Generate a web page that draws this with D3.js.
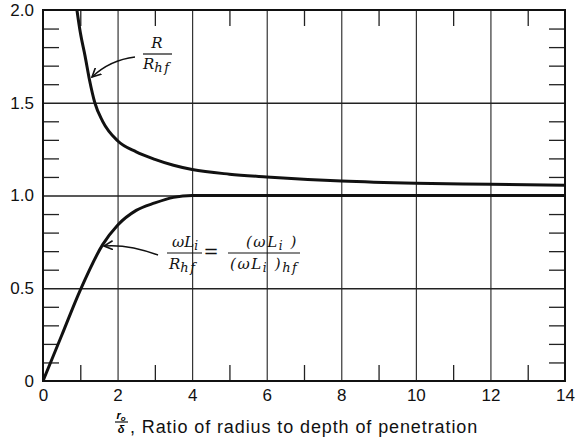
<!DOCTYPE html>
<html>
<head>
<meta charset="utf-8">
<script src="https://cdn.jsdelivr.net/npm/d3@7"></script>
<style>
  body { margin: 0; background: #fff; }
  svg { display: block; }
  .tick text { font-family: "Liberation Sans", Arial, sans-serif; font-size: 17px; fill: #111; }
  .note { font-family: "DejaVu Serif", serif; font-style: italic; font-size: 15px; fill: #111; }
  .spaced { letter-spacing: 1.6px; }
  .axis-title { font-family: "Liberation Sans", Arial, sans-serif; font-size: 18px; fill: #111; letter-spacing: 0.9px; }
</style>
</head>
<body>
<svg id="chart" width="577" height="443"></svg>
<script>
const xTicks = [0, 2, 4, 6, 8, 10, 12, 14];
const xTickLabels = ["0", "2", "4", "6", "8", "10", "12", "14"];
const xMinor = [1, 3, 5, 7, 9, 11, 13];
const yTicks = [0, 0.5, 1.0, 1.5, 2.0];
const yTickLabels = ["0", "0.5", "1.0", "1.5", "2.0"];
const yMinor = [0.1, 0.2, 0.3, 0.4, 0.6, 0.7, 0.8, 0.9, 1.1, 1.2, 1.3, 1.4, 1.6, 1.7, 1.8, 1.9];

// R / R_hf
const rRatioX = [0.91, 1.0, 1.13, 1.25, 1.39, 1.6, 2, 2.5, 3, 3.5, 4, 5, 6, 8, 10, 12, 14];
const rRatioY = [2.0, 1.88, 1.75, 1.62, 1.5, 1.40, 1.295, 1.235, 1.195, 1.163, 1.14, 1.115, 1.10, 1.078, 1.066, 1.06, 1.055];

// wL_i / R_hf
const lRatioX = [0, 0.5, 1, 1.6, 2, 2.5, 3, 3.5, 4, 6, 8, 10, 12, 14];
const lRatioY = [0, 0.245, 0.49, 0.735, 0.84, 0.92, 0.96, 0.99, 1.0, 1.0, 1.0, 1.0, 1.0, 1.0];

const pLeft = 43, pRight = 565, pTop = 10, pBottom = 381;
const x = d3.scaleLinear().domain([0, 14]).range([pLeft, pRight]);
const y = d3.scaleLinear().domain([0, 2]).range([pBottom, pTop]);

const svg = d3.select("#chart");

const defs = svg.append("defs");
defs.append("clipPath").attr("id", "plot")
  .append("rect").attr("x", pLeft).attr("y", pTop)
  .attr("width", pRight - pLeft).attr("height", pBottom - pTop);
defs.append("marker")
  .attr("id", "arrow")
  .attr("viewBox", "0 0 10 10")
  .attr("refX", 9).attr("refY", 5)
  .attr("markerWidth", 10).attr("markerHeight", 10)
  .attr("markerUnits", "userSpaceOnUse")
  .attr("orient", "auto")
  .append("path")
  .attr("d", "M0,0.5 L9,5 L0,9.5")
  .attr("fill", "none").attr("stroke", "#111").attr("stroke-width", 1.6);

// grid lines
svg.append("g")
  .attr("transform", `translate(0,${pBottom})`)
  .call(d3.axisBottom(x).tickValues(xTicks.slice(1, -1)).tickSize(-(pBottom - pTop)).tickFormat(""))
  .call(g => g.select(".domain").remove())
  .selectAll("line").attr("stroke", "#222").attr("stroke-width", 1.1);

svg.append("g")
  .attr("transform", `translate(${pLeft},0)`)
  .call(d3.axisLeft(y).tickValues(yTicks.slice(1, -1)).tickSize(-(pRight - pLeft)).tickFormat(""))
  .call(g => g.select(".domain").remove())
  .selectAll("line").attr("stroke", "#222").attr("stroke-width", 1.3);

// short minor ticks on all four sides
const tickLen = 16;
function minor(g) {
  g.select(".domain").remove();
  g.selectAll("line").attr("stroke", "#222").attr("stroke-width", 1.3);
}
svg.append("g").attr("transform", `translate(${pLeft},0)`)
  .call(d3.axisLeft(y).tickValues(yMinor).tickSize(-tickLen).tickFormat("")).call(minor);
svg.append("g").attr("transform", `translate(${pRight},0)`)
  .call(d3.axisRight(y).tickValues(yMinor).tickSize(-tickLen).tickFormat("")).call(minor);
svg.append("g").attr("transform", `translate(0,${pTop})`)
  .call(d3.axisTop(x).tickValues(xMinor).tickSize(-tickLen).tickFormat("")).call(minor);
svg.append("g").attr("transform", `translate(0,${pBottom})`)
  .call(d3.axisBottom(x).tickValues(xMinor).tickSize(-tickLen).tickFormat("")).call(minor);

// frame
svg.append("rect")
  .attr("x", pLeft).attr("y", pTop)
  .attr("width", pRight - pLeft).attr("height", pBottom - pTop)
  .attr("fill", "none").attr("stroke", "#111").attr("stroke-width", 2);

// tick labels
svg.append("g").attr("transform", `translate(${pLeft},0)`)
  .call(d3.axisLeft(y).tickValues(yTicks).tickSize(0).tickPadding(9)
    .tickFormat((d, i) => yTickLabels[i]))
  .call(g => g.select(".domain").remove());
svg.append("g").attr("transform", `translate(0,${pBottom})`)
  .call(d3.axisBottom(x).tickValues(xTicks).tickSize(0).tickPadding(8)
    .tickFormat((d, i) => xTickLabels[i]))
  .call(g => g.select(".domain").remove());

// curves
const line = d3.line().x(d => x(d[0])).y(d => y(d[1])).curve(d3.curveMonotoneX);
const curves = svg.append("g").attr("clip-path", "url(#plot)");
curves.append("path")
  .datum(rRatioX.map((v, i) => [v, rRatioY[i]]))
  .attr("d", line)
  .attr("fill", "none").attr("stroke", "#111").attr("stroke-width", 3);
curves.append("path")
  .datum(lRatioX.map((v, i) => [v, lRatioY[i]]))
  .attr("d", line)
  .attr("fill", "none").attr("stroke", "#111").attr("stroke-width", 3);

// annotation: R / R_hf
const n1 = svg.append("g").attr("class", "note");
n1.append("text").attr("x", 157).attr("y", 48).attr("text-anchor", "middle").text("R");
n1.append("line").attr("x1", 143).attr("x2", 172).attr("y1", 54).attr("y2", 54)
  .attr("stroke", "#111").attr("stroke-width", 1.2);
const d1 = n1.append("text").attr("x", 143).attr("y", 69);
d1.append("tspan").text("R");
d1.append("tspan").attr("dy", 3).attr("font-size", 13).attr("class", "spaced").text("hf");
svg.append("path")
  .attr("d", "M135,57 Q110,60 92,77")
  .attr("fill", "none").attr("stroke", "#111").attr("stroke-width", 1.6)
  .attr("marker-end", "url(#arrow)");

// annotation: wL_i / R_hf = (wL_i) / (wL_i)_hf
const n2 = svg.append("g").attr("class", "note");
const t1 = n2.append("text").attr("x", 185).attr("y", 247).attr("text-anchor", "middle");
t1.append("tspan").text("ωL");
t1.append("tspan").attr("dy", 3).attr("font-size", 12).text("i");
n2.append("line").attr("x1", 167).attr("x2", 202).attr("y1", 253).attr("y2", 253)
  .attr("stroke", "#111").attr("stroke-width", 1.2);
const t2 = n2.append("text").attr("x", 169).attr("y", 269);
t2.append("tspan").text("R");
t2.append("tspan").attr("dy", 3).attr("font-size", 13).attr("class", "spaced").text("hf");
n2.append("text").attr("x", 211).attr("y", 258).attr("text-anchor", "middle")
  .attr("font-style", "normal").attr("font-size", 18).text("=");
const t3 = n2.append("text").attr("class", "spaced").attr("x", 272).attr("y", 247).attr("text-anchor", "middle");
t3.append("tspan").text("(ωL");
t3.append("tspan").attr("dy", 3).attr("font-size", 12).text("i");
t3.append("tspan").attr("dy", -3).text(" )");
n2.append("line").attr("x1", 228).attr("x2", 300).attr("y1", 253).attr("y2", 253)
  .attr("stroke", "#111").attr("stroke-width", 1.2);
const t4 = n2.append("text").attr("class", "spaced").attr("x", 230).attr("y", 269);
t4.append("tspan").text("(ωL");
t4.append("tspan").attr("dy", 3).attr("font-size", 12).text("i");
t4.append("tspan").attr("dy", -3).text(" )");
t4.append("tspan").attr("dy", 3).attr("font-size", 13).text("hf");
svg.append("path")
  .attr("d", "M158,255 Q128,244 104,246")
  .attr("fill", "none").attr("stroke", "#111").attr("stroke-width", 1.6)
  .attr("marker-end", "url(#arrow)");

// x axis title
const title = svg.append("g");
const frac = title.append("text")
  .attr("x", 121).attr("y", 419).attr("text-anchor", "middle")
  .attr("font-family", "Liberation Sans, Arial, sans-serif")
  .attr("font-style", "italic").attr("font-weight", "bold").attr("font-size", 11);
frac.append("tspan").text("r");
frac.append("tspan").attr("dy", 2).attr("font-size", 8).text("o");
title.append("line").attr("x1", 115).attr("x2", 128).attr("y1", 422).attr("y2", 422)
  .attr("stroke", "#111").attr("stroke-width", 1.2);
title.append("text")
  .attr("x", 121).attr("y", 433).attr("text-anchor", "middle")
  .attr("font-family", "Liberation Sans, Arial, sans-serif")
  .attr("font-style", "italic").attr("font-weight", "bold").attr("font-size", 11)
  .text("δ");
title.append("text").attr("class", "axis-title")
  .attr("x", 130).attr("y", 433)
  .text(", Ratio of radius to depth of penetration");
</script>
</body>
</html>
